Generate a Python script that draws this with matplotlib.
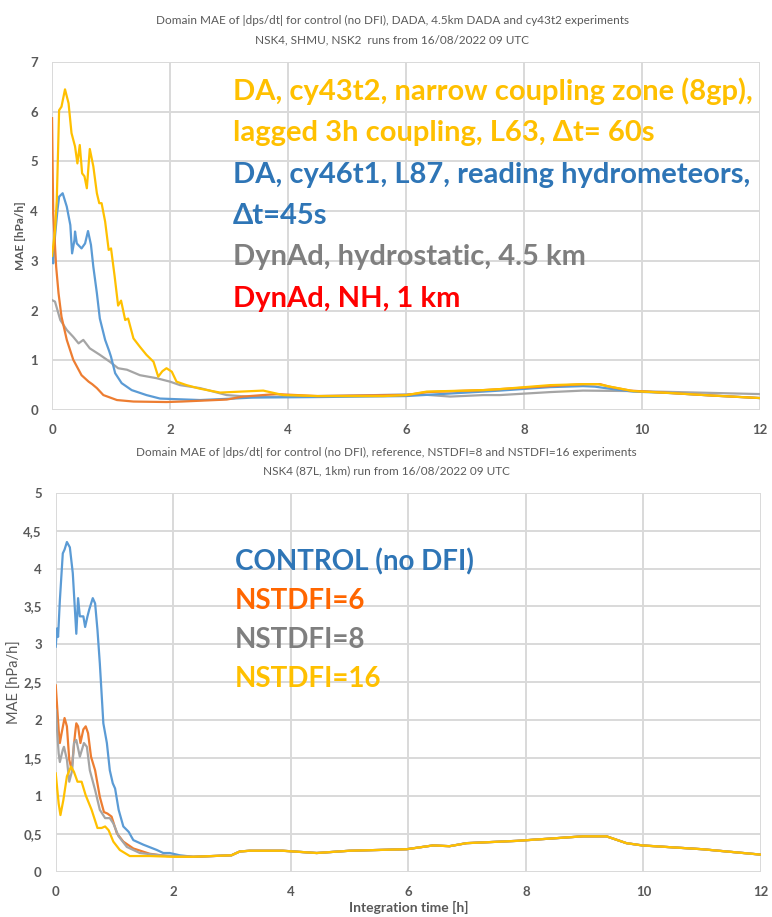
import matplotlib
matplotlib.use("Agg")
import matplotlib.pyplot as plt

plt.rcParams['font.family'] = ['Lato', 'DejaVu Sans']

# ---- top panel: DA / DynAd experiments ----
top_yel_x = [0, 0.05, 0.08, 0.12, 0.16, 0.22, 0.28, 0.33, 0.39, 0.43, 0.47, 0.51, 0.55, 0.59, 0.64, 0.70,
             0.76, 0.80, 0.84, 0.90, 0.96, 1.0, 1.06, 1.12, 1.17, 1.24, 1.29, 1.38, 1.49, 1.60, 1.72, 1.80,
             1.87, 1.94, 2.03, 2.11, 2.28, 2.5, 2.85, 3.2, 3.58, 3.92, 4.5, 5.0, 5.62, 6.01, 6.35, 7.31,
             7.59, 8.44, 9.0, 9.25, 9.5, 9.85, 10.5, 11.2, 12]
top_yel_y = [3.1, 3.6, 4.2, 6.03, 6.1, 6.45, 6.17, 5.57, 5.3, 4.96, 5.33, 4.76, 4.7, 4.46, 5.25, 4.9,
             4.36, 4.16, 4.16, 3.79, 3.22, 3.25, 2.7, 2.1, 2.2, 1.81, 1.84, 1.44, 1.27, 1.11, 0.97, 0.67,
             0.78, 0.84, 0.77, 0.57, 0.50, 0.43, 0.35, 0.37, 0.39, 0.30, 0.28, 0.28, 0.28, 0.30, 0.37, 0.40,
             0.42, 0.50, 0.52, 0.52, 0.46, 0.38, 0.34, 0.29, 0.24]

top_blue_x = [0, 0.02, 0.05, 0.09, 0.12, 0.18, 0.25, 0.31, 0.34, 0.38, 0.39, 0.42, 0.50, 0.56, 0.61,
              0.66, 0.70, 0.76, 0.81, 0.90, 0.97, 1.0, 1.07, 1.18, 1.35, 1.60, 1.83, 2.05, 2.51, 3.07,
              3.41, 4.5, 6.0, 7.31, 7.59, 8.44, 9.0, 9.2, 9.5, 9.85, 10.5, 11.2, 12]
top_blue_y = [3.08, 2.95, 3.49, 4.0, 4.29, 4.36, 4.09, 3.72, 3.15, 3.42, 3.59, 3.35, 3.25, 3.35, 3.6,
              3.32, 2.88, 2.35, 1.84, 1.41, 1.18, 1.07, 0.74, 0.54, 0.40, 0.30, 0.23, 0.22, 0.20, 0.23,
              0.25, 0.26, 0.28, 0.37, 0.39, 0.46, 0.48, 0.47, 0.42, 0.37, 0.34, 0.29, 0.24]

top_gray_x = [0, 0.05, 0.14, 0.25, 0.36, 0.45, 0.53, 0.64, 0.81, 0.98, 1.12, 1.27, 1.49, 1.77, 2.0,
              2.17, 2.51, 2.96, 3.41, 4.5, 5.5, 6.18, 6.75, 7.31, 7.59, 8.44, 9.0, 9.9, 12]
top_gray_y = [2.21, 2.18, 1.81, 1.61, 1.47, 1.34, 1.41, 1.24, 1.11, 0.97, 0.84, 0.81, 0.70, 0.64, 0.57,
              0.50, 0.44, 0.30, 0.26, 0.28, 0.30, 0.32, 0.27, 0.30, 0.30, 0.36, 0.39, 0.38, 0.32]

top_or_x = [0, 0.02, 0.07, 0.11, 0.16, 0.25, 0.36, 0.50, 0.62, 0.68, 0.76, 0.87, 1.10, 1.38, 1.94,
            2.2, 2.96, 3.24, 3.80, 4.5, 6.01, 6.35, 7.31, 8.44, 9.0, 9.29, 9.44, 9.8, 10.5, 11.2, 12]
top_or_y = [5.87, 3.96, 2.88, 2.35, 1.88, 1.41, 1.01, 0.70, 0.57, 0.52, 0.44, 0.30, 0.20, 0.17, 0.16,
            0.17, 0.21, 0.27, 0.32, 0.28, 0.30, 0.36, 0.40, 0.48, 0.52, 0.52, 0.47, 0.39, 0.34, 0.29, 0.24]

top_labels = ["DA, cy43t2, narrow coupling zone (8gp),", "lagged 3h coupling, L63, \u0394t= 60s",
              "DA, cy46t1, L87, reading hydrometeors,", "\u0394t=45s",
              "DynAd, hydrostatic, 4.5 km", "DynAd, NH, 1 km"]
top_label_colors = ["#FFC000", "#FFC000", "#2E75B6", "#2E75B6", "#7F7F7F", "#FF0000"]

# ---- bottom panel: NSTDFI experiments ----
tail_x = [2.34, 2.99, 3.13, 3.30, 3.86, 4.44, 5.0, 5.97, 6.42, 6.7, 6.99, 7.56, 7.84, 8.41, 8.97,
          9.37, 9.71, 9.98, 11.0, 11.98]
tail_y = [0.20, 0.22, 0.27, 0.28, 0.28, 0.25, 0.28, 0.30, 0.35, 0.34, 0.38, 0.40, 0.41, 0.44, 0.47,
          0.47, 0.38, 0.35, 0.30, 0.23]

ctrl_x = [0, 0.02, 0.04, 0.07, 0.12, 0.15, 0.19, 0.24, 0.29, 0.35, 0.38, 0.41, 0.47, 0.50, 0.54,
          0.57, 0.63, 0.67, 0.71, 0.75, 0.81, 0.87, 0.92, 0.97, 1.01, 1.07, 1.15, 1.24, 1.32, 1.49,
          1.72, 1.83, 1.94, 2.11]
ctrl_y = [2.97, 3.21, 3.1, 3.58, 4.20, 4.25, 4.35, 4.28, 3.94, 3.14, 3.61, 3.37, 3.37, 3.23, 3.37,
          3.46, 3.61, 3.54, 3.19, 2.75, 1.96, 1.70, 1.34, 1.17, 1.10, 0.82, 0.60, 0.53, 0.42, 0.36,
          0.29, 0.25, 0.25, 0.22]

n6_x = [0, 0.05, 0.07, 0.10, 0.15, 0.19, 0.23, 0.27, 0.33, 0.35, 0.38, 0.42, 0.47, 0.51, 0.55, 0.60,
        0.67, 0.75, 0.82, 0.88, 0.95, 1.04, 1.15, 1.32, 1.60, 1.89]
n6_y = [2.46, 1.87, 1.70, 1.83, 2.03, 1.92, 1.48, 1.35, 1.83, 1.96, 1.92, 1.70, 1.88, 1.92, 1.83, 1.52,
        1.34, 0.99, 0.79, 0.77, 0.73, 0.51, 0.40, 0.31, 0.24, 0.21]

n8_x = [0, 0.05, 0.07, 0.12, 0.14, 0.19, 0.23, 0.28, 0.31, 0.35, 0.41, 0.48, 0.53, 0.58, 0.67, 0.75,
        0.84, 0.92, 0.98, 1.07, 1.21, 1.43, 1.77]
n8_y = [2.13, 1.56, 1.45, 1.61, 1.65, 1.48, 1.19, 1.34, 1.70, 1.74, 1.52, 1.70, 1.65, 1.34, 1.08, 0.82,
        0.71, 0.71, 0.64, 0.47, 0.33, 0.25, 0.22]

n16_x = [0, 0.05, 0.08, 0.13, 0.19, 0.26, 0.31, 0.37, 0.44, 0.51, 0.61, 0.71, 0.78, 0.84, 0.90, 0.98,
         1.09, 1.26, 1.60, 2.0]
n16_y = [1.30, 0.90, 0.75, 0.95, 1.26, 1.39, 1.32, 1.19, 1.19, 1.01, 0.82, 0.58, 0.58, 0.60, 0.55, 0.40,
         0.29, 0.21, 0.21, 0.20]

bot_labels = ["CONTROL (no DFI)", "NSTDFI=6", "NSTDFI=8", "NSTDFI=16"]
bot_label_colors = ["#2E75B6", "#FF6600", "#7F7F7F", "#FFC000"]
bot_yticks = [0, 0.5, 1, 1.5, 2, 2.5, 3, 3.5, 4, 4.5, 5]
bot_yticklabels = ["0", "0,5", "1", "1,5", "2", "2,5", "3", "3,5", "4", "4,5", "5"]

BLUE, ORANGE, GRAY, YELLOW = "#5B9BD5", "#ED7D31", "#A5A5A5", "#FFC000"
TXT = "#595959"
GRID = "#D9D9D9"

fig = plt.figure(figsize=(7.72, 9.17), dpi=100)
ax1 = fig.add_axes([0.0674, 0.5529, 0.9171, 0.3795])
ax2 = fig.add_axes([0.0722, 0.0491, 0.9136, 0.4136])


def style(ax, ymax):
    ax.set_xlim(0, 12)
    ax.set_ylim(0, ymax)
    ax.set_xticks(range(0, 13, 2))
    ax.grid(True, color=GRID, lw=1.4)
    ax.set_axisbelow(True)
    for s in ax.spines.values():
        s.set_visible(False)
    ax.tick_params(length=0, colors=TXT, labelsize=9.5, pad=10)
    for t in ax.get_xticklabels() + ax.get_yticklabels():
        t.set_fontweight("bold")


# top
ax1.plot(top_gray_x, top_gray_y, color=GRAY, lw=1.6)
ax1.plot(top_blue_x, top_blue_y, color=BLUE, lw=1.6)
ax1.plot(top_or_x, top_or_y, color=ORANGE, lw=1.6)
ax1.plot(top_yel_x, top_yel_y, color=YELLOW, lw=1.6)
ax1.set_yticks(range(0, 8))
style(ax1, 7)
ax1.set_ylabel("MAE [hPa/h]", fontsize=8.5, fontweight="bold", color=TXT, labelpad=3)

for i, (lab, col) in enumerate(zip(top_labels, top_label_colors)):
    fig.text(233 / 772, 1 - (100 + 41.3 * i) / 917, lab, color=col, fontsize=21,
             fontweight="bold", ha="left", va="baseline")

fig.text(0.508, 1 - 20 / 917, "Domain MAE of |dps/dt| for control (no DFI), DADA, 4.5km DADA and cy43t2 experiments",
         ha="center", va="center", fontsize=8.5, color=TXT)
fig.text(0.508, 1 - 40 / 917, "NSK4, SHMU, NSK2  runs from 16/08/2022 09 UTC",
         ha="center", va="center", fontsize=8.5, color=TXT)

# bottom
ax2.plot(ctrl_x + tail_x, ctrl_y + tail_y, color=BLUE, lw=1.6)
ax2.plot(n6_x + tail_x, n6_y + tail_y, color=ORANGE, lw=1.6)
ax2.plot(n8_x + tail_x, n8_y + tail_y, color=GRAY, lw=1.6)
ax2.plot(n16_x + tail_x, n16_y + tail_y, color=YELLOW, lw=1.6)
ax2.set_yticks(bot_yticks)
ax2.set_yticklabels(bot_yticklabels)
style(ax2, 5)
ax2.set_ylabel("MAE [hPa/h]", fontsize=10.5, color=TXT, labelpad=1)
ax2.set_xlabel("Integration time [h]", fontsize=10, fontweight="bold", color=TXT, labelpad=2)

for i, (lab, col) in enumerate(zip(bot_labels, bot_label_colors)):
    fig.text(235 / 772, 1 - (570 + 39 * i) / 917, lab, color=col, fontsize=20,
             fontweight="bold", ha="left", va="baseline")

fig.text(0.5, 1 - 452 / 917, "Domain MAE of |dps/dt| for control (no DFI), reference, NSTDFI=8 and NSTDFI=16 experiments",
         ha="center", va="center", fontsize=8.5, color=TXT)
fig.text(0.5, 1 - 471 / 917, "NSK4 (87L, 1km) run from 16/08/2022 09 UTC",
         ha="center", va="center", fontsize=8.5, color=TXT)

fig.savefig("out.png", dpi=100, facecolor="white")
